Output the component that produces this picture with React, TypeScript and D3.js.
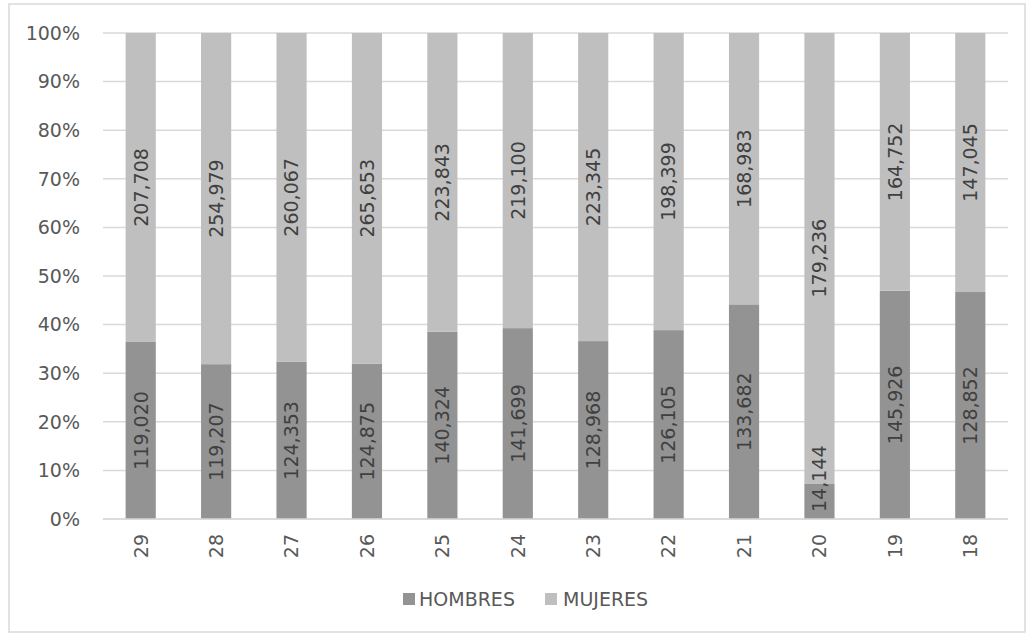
import React from "react";
import * as d3 from "d3";

const categories = ["29", "28", "27", "26", "25", "24", "23", "22", "21", "20", "19", "18"];
const hombres = [119020, 119207, 124353, 124875, 140324, 141699, 128968, 126105, 133682, 14144, 145926, 128852];
const mujeres = [207708, 254979, 260067, 265653, 223843, 219100, 223345, 198399, 168983, 179236, 164752, 147045];
const yTicks = [0, 0.1, 0.2, 0.3, 0.4, 0.5, 0.6, 0.7, 0.8, 0.9, 1];
const seriesNames = ["HOMBRES", "MUJERES"];
const seriesColors = ["#939393", "#bfbfbf"];

const W = 1028;
const H = 634;
const plot = { left: 103, right: 1008, top: 33, bottom: 519 };
const font = "'DejaVu Sans', 'Liberation Sans', sans-serif";
const fs = 19;
const fmt = d3.format(",");

// approximate rendered length of a numeric label (DejaVu Sans metrics)
const labelLength = (s: string) =>
  s.split("").reduce((acc, ch) => acc + (ch === "," ? 0.318 : 0.636), 0) * fs;

export default function App() {
  const x = d3
    .scaleBand<string>()
    .domain(categories)
    .range([plot.left, plot.right])
    .paddingInner(0.6)
    .paddingOuter(0.3);
  const y = d3.scaleLinear().domain([0, 1]).range([plot.bottom, plot.top]);
  const pct = d3.format(".0%");

  const rows = categories.map((c, i) => {
    const total = hombres[i] + mujeres[i];
    return { c, h: hombres[i] / total, hv: hombres[i], mv: mujeres[i] };
  });

  return (
    <svg width={W} height={H} style={{ position: "absolute", left: 0, top: 0 }}>
      <rect x={9} y={4} width={1016} height={628} fill="#fff" stroke="#d9d9d9" strokeWidth={1.5} />
      {yTicks.map((t) => (
        <g key={t}>
          <line x1={plot.left} x2={plot.right} y1={y(t)} y2={y(t)} stroke="#d9d9d9" strokeWidth={1.5} />
          <text x={80} y={y(t)} dy="0.36em" textAnchor="end" fontSize={fs} fill="#595959" fontFamily={font}>
            {pct(t)}
          </text>
        </g>
      ))}
      {rows.map((r) => {
        const bx = x(r.c)!;
        const bw = x.bandwidth();
        const cx = bx + bw / 2;
        const hText = fmt(r.hv);
        const half = labelLength(hText) / 2;
        // keep the label inside the chart when the segment is too short
        const hy = Math.min((y(0) + y(r.h)) / 2, y(0) - 7 - half);
        const my = (y(r.h) + y(1)) / 2;
        return (
          <g key={r.c}>
            <rect x={bx} y={y(r.h)} width={bw} height={y(0) - y(r.h)} fill={seriesColors[0]} />
            <rect x={bx} y={y(1)} width={bw} height={y(r.h) - y(1)} fill={seriesColors[1]} />
            <text
              transform={`translate(${cx},${hy}) rotate(-90)`}
              textAnchor="middle"
              dy="0.36em"
              fontSize={fs}
              fill="#404040"
              fontFamily={font}
            >
              {hText}
            </text>
            <text
              transform={`translate(${cx},${my}) rotate(-90)`}
              textAnchor="middle"
              dy="0.36em"
              fontSize={fs}
              fill="#404040"
              fontFamily={font}
            >
              {fmt(r.mv)}
            </text>
            <text
              transform={`translate(${cx},${plot.bottom + 15}) rotate(-90)`}
              textAnchor="end"
              dy="0.36em"
              fontSize={fs}
              fill="#595959"
              fontFamily={font}
            >
              {r.c}
            </text>
          </g>
        );
      })}
      <line x1={plot.left} x2={plot.right} y1={y(0)} y2={y(0)} stroke="#d9d9d9" strokeWidth={1.5} />
      <g fontFamily={font} fontSize={fs} fill="#595959">
        <rect x={403} y={593} width={12} height={12} fill={seriesColors[0]} />
        <text x={419} y={599} dy="0.36em">{seriesNames[0]}</text>
        <rect x={545} y={593} width={12} height={12} fill={seriesColors[1]} />
        <text x={563} y={599} dy="0.36em">{seriesNames[1]}</text>
      </g>
    </svg>
  );
}
